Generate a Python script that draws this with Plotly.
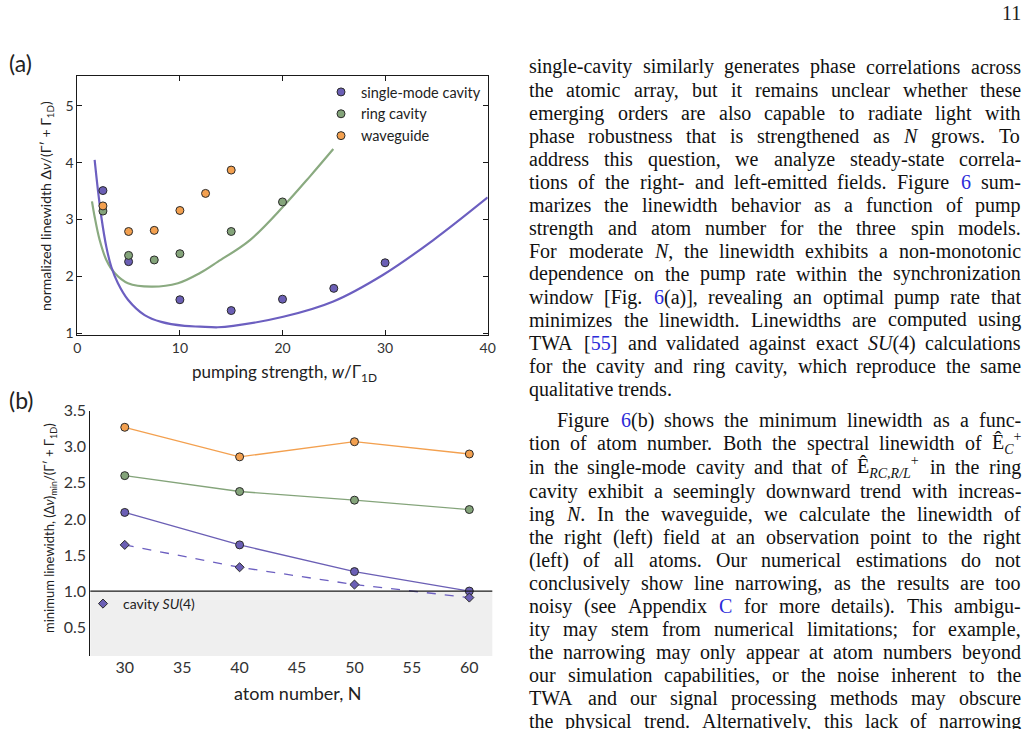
"""Linewidth vs pump strength / atom number, with the page text beside it."""

import re

import plotly.graph_objects as go

W, H = 1029, 729

# (a) linewidth vs pumping strength
pump_single = [2.5, 5, 10, 15, 20, 25, 30]
lw_single = [3.51, 2.26, 1.59, 1.40, 1.60, 1.79, 2.24]
pump_ring = [2.5, 5, 7.5, 10, 15, 20]
lw_ring = [3.15, 2.37, 2.29, 2.40, 2.79, 3.31]
pump_wg = [2.5, 5, 7.5, 10, 12.5, 15]
lw_wg = [3.24, 2.79, 2.81, 3.16, 3.46, 3.87]

curve_single_x = [1.69, 2.01, 2.34, 2.83, 3.31, 3.96, 4.94, 6.56, 8.18, 10.46,
                  11.96, 13.7, 15.2, 20.07, 24.95, 29.82, 34.7, 40]
curve_single_y = [4.05, 3.52, 3.05, 2.52, 2.17, 1.88, 1.59, 1.32, 1.20, 1.13,
                  1.117, 1.106, 1.13, 1.29, 1.56, 2.03, 2.64, 3.39]
curve_ring_x = [1.43, 1.69, 2.18, 2.83, 3.64, 4.94, 7.21, 9.81, 11.96, 13.71,
                16.83, 20.07, 22.68, 24.95]
curve_ring_y = [3.32, 3.05, 2.64, 2.29, 2.06, 1.88, 1.82, 1.88, 2.06, 2.26,
                2.64, 3.23, 3.76, 4.24]

# (b) minimum linewidth vs atom number
atoms = [30, 40, 50, 60]
min_wg = [3.27, 2.86, 3.07, 2.90]
min_ring = [2.60, 2.38, 2.26, 2.13]
min_single = [2.09, 1.64, 1.27, 1.00]
min_su4 = [1.64, 1.33, 1.09, 0.91]
limit_level = 1.0

PURPLE = "#6b5fb5"
GREEN = "#84a47a"
ORANGE = "#f3a04f"
PURPLE_LINE = "#6c5fc0"
GREEN_LINE = "#8aaa80"
AXIS = "#1a1a1a"
TICK = "#333333"
SANS = "Lato, sans-serif"
SERIF = "Liberation Serif, serif"
LINK = "#2b2bd9"

PARA1 = [
    "single-cavity similarly generates phase correlations across",
    "the atomic array, but it remains unclear whether these",
    "emerging orders are also capable to radiate light with",
    "phase robustness that is strengthened as *N* grows. To",
    "address this question, we analyze steady-state correla-",
    "tions of the right- and left-emitted fields. Figure #6# sum-",
    "marizes the linewidth behavior as a function of pump",
    "strength and atom number for the three spin models.",
    "For moderate *N*, the linewidth exhibits a non-monotonic",
    "dependence on the pump rate within the synchronization",
    "window [Fig. #6#(a)], revealing an optimal pump rate that",
    "minimizes the linewidth. Linewidths are computed using",
    "TWA [#55#] and validated against exact *SU*(4) calculations",
    "for the cavity and ring cavity, which reproduce the same",
    "qualitative trends.",
]
PARA2 = [
    "Figure #6#(b) shows the minimum linewidth as a func-",
    "tion of atom number. Both the spectral linewidth of Ê<sub>*C*</sub><sup>+</sup>",
    "in the single-mode cavity and that of Ê<sub>*RC,R/L*</sub><sup>+</sup> in the ring",
    "cavity exhibit a seemingly downward trend with increas-",
    "ing *N*. In the waveguide, we calculate the linewidth of",
    "the right (left) field at an observation point to the right",
    "(left) of all atoms. Our numerical estimations do not",
    "conclusively show line narrowing, as the results are too",
    "noisy (see Appendix #C# for more details). This ambigu-",
    "ity may stem from numerical limitations; for example,",
    "the narrowing may only appear at atom numbers beyond",
    "our simulation capabilities, or the noise inherent to the",
    "TWA and our signal processing methods may obscure",
    "the physical trend. Alternatively, this lack of narrowing",
]

# rough Times/Liberation Serif advance widths (em)
_CW = {}
for chars, em in [(" ,.", 0.25), ("iljt:;/", 0.278), ("fr-()[]I", 0.333),
                  ("sJ", 0.389), ("acez", 0.444),
                  ("bdghknopquvxy0123456789S", 0.5), ("+", 0.564),
                  ("ELTZÊFP", 0.611), ("BCR", 0.667), ("w", 0.722),
                  ("ADGHKNOQUVXY", 0.722), ("m", 0.778), ("M", 0.889),
                  ("W", 0.944)]:
    for ch in chars:
        _CW[ch] = em


def _word_width(raw, size):
    plain = raw.replace("#", "").replace("*", "")
    scale, total = 1.0, 0.0
    for tok in re.split(r"(<[^>]+>)", plain):
        if tok in ("<sub>", "<sup>"):
            scale = 0.7
        elif tok in ("</sub>", "</sup>"):
            scale = 1.0
        elif not tok.startswith("<"):
            total += sum(_CW.get(ch, 0.5) for ch in tok) * scale
    return total * size


def _to_html(raw):
    out = re.sub(r"#(.+?)#", rf'<span style="color:{LINK}">\1</span>', raw)
    return re.sub(r"\*(.+?)\*", r"<i>\1</i>", out)


def _text_line(raw, y, x0=528, x1=1020, size=20, justify=True):
    words = raw.split(" ")
    widths = [_word_width(w, size) for w in words]
    gap = 0.25 * size
    if justify and len(words) > 1:
        gap = (x1 - x0 - sum(widths)) / (len(words) - 1)
    anns, x = [], x0
    for w, wd in zip(words, widths):
        anns.append(dict(
            text=_to_html(w), x=x / W, y=1 - y / H, xref="paper", yref="paper",
            xanchor="left", yanchor="middle", showarrow=False, borderpad=0,
            font=dict(family=SERIF, size=size, color="#111111"),
        ))
        x += wd + gap
    return anns


def _label(text, x, y, size, family=SANS, angle=0):
    return dict(text=text, x=x / W, y=1 - y / H, xref="paper", yref="paper",
                xanchor="center", yanchor="middle", showarrow=False,
                textangle=angle, font=dict(family=family, size=size, color="#222"))


fig = go.Figure()

# panel (a)
fig.add_trace(go.Scatter(
    x=curve_ring_x, y=curve_ring_y, mode="lines",
    line=dict(color=GREEN_LINE, width=2.2, shape="spline"), showlegend=False,
))
fig.add_trace(go.Scatter(
    x=curve_single_x, y=curve_single_y, mode="lines",
    line=dict(color=PURPLE_LINE, width=2.2, shape="spline"), showlegend=False,
))
for xs, ys, col, name in [(pump_single, lw_single, PURPLE, "single-mode cavity"),
                          (pump_ring, lw_ring, GREEN, "ring cavity"),
                          (pump_wg, lw_wg, ORANGE, "waveguide")]:
    fig.add_trace(go.Scatter(
        x=xs, y=ys, mode="markers", name=name, legend="legend",
        marker=dict(size=8, color=col, line=dict(color="#2a2a2a", width=1)),
    ))

# panel (b)
for ys, col in [(min_wg, ORANGE), (min_ring, GREEN), (min_single, PURPLE)]:
    fig.add_trace(go.Scatter(
        x=atoms, y=ys, mode="lines+markers", xaxis="x2", yaxis="y2",
        line=dict(color=col, width=1.3), showlegend=False,
        marker=dict(size=8, color=col, line=dict(color="#2a2a2a", width=1)),
    ))
fig.add_trace(go.Scatter(
    x=atoms, y=min_su4, mode="lines+markers", xaxis="x2", yaxis="y2",
    line=dict(color=PURPLE_LINE, width=1.3, dash="dash"), showlegend=False,
    marker=dict(size=7, symbol="diamond", color=PURPLE,
                line=dict(color="#2a2a2a", width=1)),
))
fig.add_trace(go.Scatter(
    x=[None], y=[None], mode="markers", xaxis="x2", yaxis="y2",
    name="cavity <i>SU</i>(4)", legend="legend2",
    marker=dict(size=7, symbol="diamond", color=PURPLE,
                line=dict(color="#2a2a2a", width=1)),
))

axis_a = dict(
    showgrid=False, zeroline=False, showline=True, linecolor=AXIS, linewidth=1,
    ticks="inside", ticklen=5, tickcolor=AXIS, mirror="ticks",
    tickfont=dict(family=SANS, size=14, color=TICK),
)
b_xdom = [90.3 / W, 492.3 / W]
b_ydom = [1 - 656 / H, 1 - 410.7 / H]
b_xticks = [30, 35, 40, 45, 50, 55, 60]
b_yticks = [0.5, 1.0, 1.5, 2.0, 2.5, 3.0, 3.5]

annotations = [
    _label("(a)", 20, 63, 23),
    _label("(b)", 21, 400, 23),
    _label("11", 1011, 13, 20, family=SERIF),
    _label("normalized linewidth Δ<i>ν</i>/(Γ′ + Γ<sub>1D</sub>)", 47, 206, 14, angle=-90),
    _label("pumping strength, <i>w</i>/Γ<sub>1D</sub>", 284, 373, 17),
    _label("minimum linewidth, (Δ<i>ν</i>)<sub>min</sub>/(Γ′ + Γ<sub>1D</sub>)",
           50, 528, 13, angle=-90),
    _label("atom number, N", 298, 693, 18),
]

for i, line in enumerate(PARA1):
    annotations += _text_line(line, 67 + 23 * i, justify=i < len(PARA1) - 1)
para2_y = [420, 443, 467, 491, 514, 537, 560, 583, 606, 629, 652, 675, 698, 721]
for i, line in enumerate(PARA2):
    annotations += _text_line(line, para2_y[i], x0=556 if i == 0 else 528)

fig.update_layout(
    width=W, height=H,
    margin=dict(l=0, r=0, t=0, b=0, autoexpand=False),
    paper_bgcolor="white", plot_bgcolor="white",
    font=dict(family=SANS, color="#222"),
    xaxis=dict(**axis_a, domain=[77.3 / W, 487.7 / W], range=[0, 40],
               tickvals=[0, 10, 20, 30, 40], anchor="y"),
    yaxis=dict(**axis_a, domain=[1 - 335 / H, 1 - 75.7 / H], range=[0.97, 5.53],
               tickvals=[1, 2, 3, 4, 5], anchor="x"),
    xaxis2=dict(domain=b_xdom, range=[27, 62], tickvals=b_xticks, anchor="y2",
                showgrid=False, zeroline=False, showline=False, ticks="",
                tickfont=dict(family=SANS, size=16, color=TICK)),
    yaxis2=dict(domain=b_ydom, range=[0.1, 3.5], tickvals=b_yticks, tickformat=".1f",
                anchor="x2", showgrid=False, zeroline=False, showline=True,
                linecolor=AXIS, linewidth=1, ticks="",
                tickfont=dict(family=SANS, size=16, color=TICK)),
    xaxis3=dict(overlaying="x2", side="top", anchor="y2", range=[27, 62],
                tickvals=b_xticks, showticklabels=False, showgrid=False,
                zeroline=False, showline=True, linecolor=AXIS, linewidth=1,
                ticks="inside", ticklen=5, tickcolor=AXIS),
    yaxis3=dict(overlaying="y2", side="right", anchor="x2", range=[0.1, 3.5],
                tickvals=b_yticks, showticklabels=False, showgrid=False,
                zeroline=False, showline=True, linecolor=AXIS, linewidth=1,
                ticks="inside", ticklen=5, tickcolor=AXIS),
    shapes=[
        dict(type="rect", xref="x2 domain", yref="y2", x0=0, x1=1, y0=0.1,
             y1=limit_level, fillcolor="#efefef", line=dict(width=0), layer="below"),
        dict(type="line", xref="x2 domain", yref="y2", x0=0, x1=1, y0=limit_level,
             y1=limit_level, line=dict(color=AXIS, width=1.2)),
    ],
    legend=dict(x=321 / W, y=1 - 76 / H, xanchor="left", yanchor="top",
                bgcolor="rgba(0,0,0,0)", font=dict(family=SANS, size=14.5, color="#222"),
                itemwidth=30, tracegroupgap=0),
    legend2=dict(x=83 / W, y=1 - 604 / H, xanchor="left", yanchor="middle",
                 bgcolor="rgba(0,0,0,0)", font=dict(family=SANS, size=14, color="#222"),
                 itemwidth=30),
    annotations=annotations,
    hovermode=False,
)

# page margin off so the figure sits flush in the window
fig.write_html("out.html", config={"displayModeBar": False},
               post_script="document.body.style.margin = '0';")
